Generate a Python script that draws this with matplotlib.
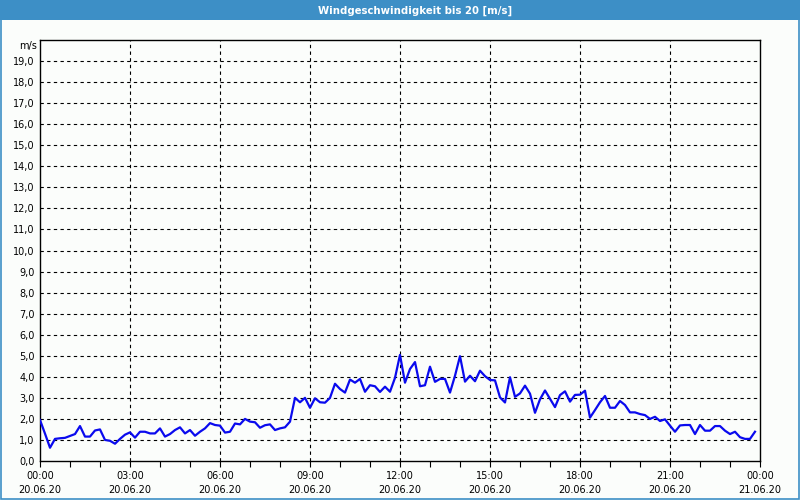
import matplotlib
matplotlib.use("Agg")
import matplotlib.pyplot as plt
from matplotlib.patches import Rectangle
import numpy as np

title = "Windgeschwindigkeit bis 20 [m/s]"
unit = "m/s"
# wind speed every 10 minutes, 00:00 .. 23:50 on 20.06.20
speed = [
    1.95, 1.30, 0.63, 1.05, 1.08, 1.10, 1.19, 1.28, 1.66, 1.16, 1.16, 1.45,
    1.50, 1.00, 0.96, 0.82, 1.05, 1.25, 1.36, 1.11, 1.39, 1.39, 1.31, 1.31,
    1.55, 1.16, 1.28, 1.47, 1.60, 1.31, 1.47, 1.20, 1.39, 1.55, 1.80, 1.71,
    1.68, 1.35, 1.39, 1.78, 1.74, 2.00, 1.87, 1.84, 1.58, 1.70, 1.74, 1.47,
    1.55, 1.60, 1.87, 3.00, 2.79, 3.00, 2.53, 2.98, 2.79, 2.77, 3.00, 3.67,
    3.42, 3.25, 3.87, 3.72, 3.90, 3.29, 3.60, 3.55, 3.28, 3.53, 3.29, 3.95,
    5.04, 3.72, 4.37, 4.70, 3.55, 3.60, 4.48, 3.76, 3.90, 3.90, 3.25, 4.05,
    4.98, 3.77, 4.05, 3.79, 4.29, 4.03, 3.85, 3.83, 3.02, 2.78, 3.98, 3.05,
    3.21, 3.58, 3.20, 2.29, 2.93, 3.35, 2.96, 2.56, 3.13, 3.31, 2.82, 3.14,
    3.15, 3.34, 2.06, 2.42, 2.79, 3.09, 2.53, 2.53, 2.85, 2.66, 2.31, 2.31,
    2.23, 2.18, 2.00, 2.10, 1.90, 1.98, 1.68, 1.39, 1.69, 1.71, 1.71, 1.28,
    1.71, 1.44, 1.44, 1.66, 1.66, 1.44, 1.28, 1.39, 1.13, 1.05, 1.05, 1.39,
]
hours = [i / 6 for i in range(len(speed))]
major_hours = [0, 3, 6, 9, 12, 15, 18, 21, 24]
time_labels = ["00:00", "03:00", "06:00", "09:00", "12:00", "15:00", "18:00", "21:00", "00:00"]
date_labels = ["20.06.20"] * 8 + ["21.06.20"]
y_ticks = list(range(0, 20))
y_labels = [f"{v},0" for v in y_ticks]

plt.rcParams['font.family'] = ['DejaVu Sans']
fig = plt.figure(figsize=(8, 5), dpi=100)
fig.patch.set_facecolor('#fbfdfb')

# title bar
fig.patches.append(Rectangle((0, 1 - 20 / 500), 1, 20 / 500, transform=fig.transFigure,
                             facecolor='#3d8fc6', edgecolor='none', zorder=0))
fig.text(415 / 800, 1 - 10.5 / 500, title, ha='center', va='center', color='white',
         fontsize=7.3, fontweight='bold')
# outer frame
fig.patches.append(Rectangle((0.0008, 0.002), 0.9984, 0.996, transform=fig.transFigure,
                             facecolor='none', edgecolor='#3d8fc6', lw=1.2, zorder=1))

ax = fig.add_axes([40 / 800, 39 / 500, 720 / 800, 421 / 500])
ax.set_facecolor('#fbfdfb')
ax.plot(hours, speed, color='#0a0aee', lw=1.6, zorder=3)

ax.set_xlim(0, 24)
ax.set_ylim(0, 20)
ax.set_xticks(major_hours)
ax.set_xticklabels([f"{t}\n{d}" for t, d in zip(time_labels, date_labels)],
                   linespacing=1.55, fontsize=7)
ax.set_xticks(range(0, 25), minor=True)
ax.set_yticks(y_ticks)
ax.set_yticklabels(y_labels, fontsize=7)
ax.tick_params(axis='x', which='both', direction='out', length=4, width=0.8, pad=3)
ax.tick_params(axis='y', length=0, pad=4)

for h in major_hours[1:-1]:
    ax.axvline(h, color='black', lw=0.8, linestyle=(0, (3, 3)), zorder=1)
for v in y_ticks[1:]:
    ax.axhline(v, color='black', lw=0.8, linestyle=(0, (3, 3)), zorder=1)

for s in ax.spines.values():
    s.set_linewidth(1.0)
    s.set_color('black')

fig.text(37 / 800, 1 - 46.5 / 500, unit, ha='right', va='center', fontsize=7)

fig.savefig("out.png", dpi=100, facecolor=fig.get_facecolor())
